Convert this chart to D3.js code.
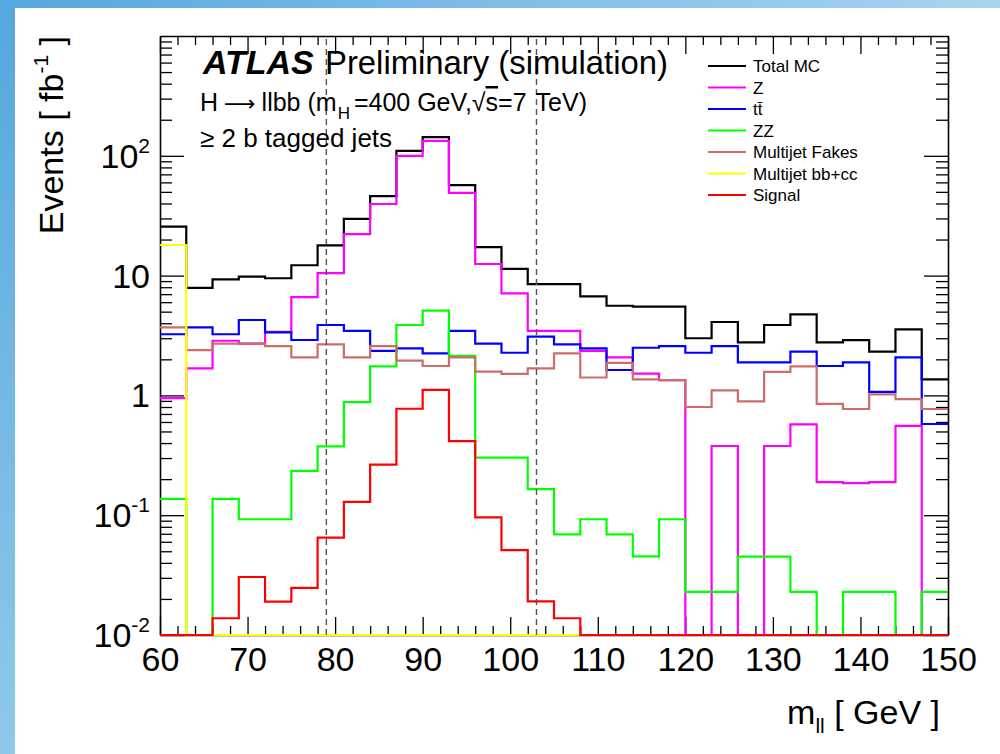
<!DOCTYPE html>
<html>
<head>
<meta charset="utf-8">
<script src="https://cdn.jsdelivr.net/npm/d3@7"></script>
<style>
  body { margin: 0; background: #fff; }
  svg { display: block; }
  text { font-family: "Liberation Sans", Arial, Helvetica, sans-serif; fill: #000; }
</style>
</head>
<body>
<svg id="chart" width="1000" height="754"></svg>
<script>
// m_ll histogram, 3 GeV bins from 60 to 150 GeV
const binEdges = [60, 63, 66, 69, 72, 75, 78, 81, 84, 87, 90, 93, 96, 99, 102, 105,
                  108, 111, 114, 117, 120, 123, 126, 129, 132, 135, 138, 141, 144, 147, 150];

const totalMC = [25.6, 7.9, 9.3, 9.8, 9.5, 12.2, 17.9, 29.7, 46, 110, 143, 57, 17.3, 11.4, 8.5,
                 8.5, 6.7, 5.6, 5.5, 5.5, 3.0, 4.1, 2.77, 3.87, 4.75, 2.77, 2.89, 2.32, 3.56, 1.36];
const zJets = [0.95, 1.68, 2.86, 2.70, 3.40, 6.6, 10.5, 22.2, 39.6, 100, 133, 49, 12.5, 7.1, 3.45,
               3.45, 2.35, 2.08, 1.52, 1.34, 0, 0.378, 0, 0.378, 0.574, 0.189, 0.185, 0.189, 0.556, 0];
const ttbar = [3.24, 3.70, 3.24, 4.26, 3.36, 2.90, 3.87, 3.45, 2.35, 2.47, 2.24, 3.45, 2.70, 2.27, 3.09,
               2.67, 2.47, 1.63, 2.50, 2.58, 2.27, 2.58, 1.89, 1.89, 2.32, 1.76, 1.89, 1.07, 2.08, 0.577];
const zz = [0.137, 0, 0.137, 0.0925, 0.0925, 0.234, 0.376, 0.88, 1.75, 3.87, 5.1, 2.14, 0.302, 0.302, 0.165,
            0.0693, 0.0925, 0.0693, 0.0454, 0.0925, 0.0229, 0.0229, 0.0451, 0.0451, 0.0229, 0, 0.0229, 0.0229, 0, 0.0229];
const multijetFakes = [3.70, 2.39, 2.70, 2.70, 2.58, 2.08, 2.67, 2.08, 2.58, 1.95, 1.76, 2.08, 1.58, 1.51, 1.68,
                       2.24, 1.41, 1.87, 1.36, 1.34, 0.80, 1.10, 0.89, 1.57, 1.75, 0.85, 0.77, 1.02, 0.93, 0.77];
const multijetBBCC = [18, 0, 0, 0, 0, 0, 0, 0, 0, 0, 0, 0, 0, 0, 0,
                      0, 0, 0, 0, 0, 0, 0, 0, 0, 0, 0, 0, 0, 0, 0];
const signal = [0, 0, 0.0138, 0.0305, 0.0190, 0.0247, 0.0649, 0.129, 0.264, 0.774, 1.11, 0.416, 0.096, 0.0512, 0.0191,
                0.0138, 0, 0, 0, 0, 0, 0, 0, 0, 0, 0, 0, 0, 0, 0];

const seriesNames = ["Total MC", "Z", "t\u0074\u0304", "ZZ", "Multijet Fakes", "Multijet bb+cc", "Signal"];
const seriesValues = [totalMC, zJets, ttbar, zz, multijetFakes, multijetBBCC, signal];
const seriesColors = ["#000000", "#ff00ff", "#0000ff", "#00ff00", "#cc6d68", "#ffff00", "#ff0000"];

const xMajorTicks = [60, 70, 80, 90, 100, 110, 120, 130, 140, 150];
const yDecades = [0.01, 0.1, 1, 10, 100];
const yTickBase = ["10", "10", "1", "10", "10"];
const yTickExp = ["-2", "-1", "", "", "2"];
const massWindow = [79, 103];

const svg = d3.select("#chart");
const frame = { left: 160, right: 948, top: 36, bottom: 635 };

// slide border gradients
const defs = svg.append("defs");
const gTop = defs.append("linearGradient").attr("id", "gTop").attr("x1", 0).attr("x2", 1).attr("y1", 0).attr("y2", 0);
gTop.append("stop").attr("offset", 0).attr("stop-color", "#55a7de");
gTop.append("stop").attr("offset", 1).attr("stop-color", "#a9d4f0");
const gLeft = defs.append("linearGradient").attr("id", "gLeft").attr("x1", 0).attr("x2", 0).attr("y1", 0).attr("y2", 1);
gLeft.append("stop").attr("offset", 0).attr("stop-color", "#55a7de");
gLeft.append("stop").attr("offset", 1).attr("stop-color", "#8fc9ea");
svg.append("rect").attr("x", 0).attr("y", 0).attr("width", 1000).attr("height", 8).attr("fill", "url(#gTop)");
svg.append("rect").attr("x", 0).attr("y", 0).attr("width", 15).attr("height", 754).attr("fill", "url(#gLeft)");

const x = d3.scaleLinear().domain([60, 150]).range([frame.left, frame.right]);
const y = d3.scaleLog().domain([0.01, 1000]).range([frame.bottom, frame.top]).clamp(true);

const xMinorTicks = d3.range(60, 151, 2).filter(v => v % 10 !== 0);
const yMinorTicks = [];
yDecades.forEach(d => { for (let k = 2; k <= 9; k++) yMinorTicks.push(d * k); });

// axes (ticks on all four sides)
function styleAxis(g) {
  g.select(".domain").attr("stroke", "#000").attr("stroke-width", 1.6);
  g.selectAll(".tick line").attr("stroke", "#000").attr("stroke-width", 1.3);
}
const axes = svg.append("g");
axes.append("g").attr("transform", `translate(0,${frame.bottom})`)
  .call(d3.axisBottom(x).tickValues(xMajorTicks).tickSizeInner(-18).tickSizeOuter(0).tickPadding(12).tickFormat(d3.format("d")))
  .call(styleAxis)
  .call(g => g.selectAll(".tick text").attr("font-size", 34).attr("font-family", "Liberation Sans, Arial, sans-serif").attr("fill", "#000"));
axes.append("g").attr("transform", `translate(0,${frame.bottom})`)
  .call(d3.axisBottom(x).tickValues(xMinorTicks).tickSizeInner(-9).tickSizeOuter(0).tickFormat(""))
  .call(styleAxis).call(g => g.select(".domain").remove());
axes.append("g").attr("transform", `translate(0,${frame.top})`)
  .call(d3.axisTop(x).tickValues(xMajorTicks).tickSizeInner(-18).tickSizeOuter(0).tickFormat(""))
  .call(styleAxis);
axes.append("g").attr("transform", `translate(0,${frame.top})`)
  .call(d3.axisTop(x).tickValues(xMinorTicks).tickSizeInner(-9).tickSizeOuter(0).tickFormat(""))
  .call(styleAxis).call(g => g.select(".domain").remove());
axes.append("g").attr("transform", `translate(${frame.left},0)`)
  .call(d3.axisLeft(y).tickValues(yDecades).tickSizeInner(-24).tickSizeOuter(0).tickFormat(""))
  .call(styleAxis);
axes.append("g").attr("transform", `translate(${frame.left},0)`)
  .call(d3.axisLeft(y).tickValues(yMinorTicks).tickSizeInner(-12).tickSizeOuter(0).tickFormat(""))
  .call(styleAxis).call(g => g.select(".domain").remove());
axes.append("g").attr("transform", `translate(${frame.right},0)`)
  .call(d3.axisRight(y).tickValues(yDecades).tickSizeInner(-24).tickSizeOuter(0).tickFormat(""))
  .call(styleAxis);
axes.append("g").attr("transform", `translate(${frame.right},0)`)
  .call(d3.axisRight(y).tickValues(yMinorTicks).tickSizeInner(-12).tickSizeOuter(0).tickFormat(""))
  .call(styleAxis).call(g => g.select(".domain").remove());

// y tick labels with exponents
const yLab = svg.append("g").selectAll("text").data(yDecades).join("text")
  .attr("x", frame.left - 10).attr("y", d => y(d) + 12)
  .attr("text-anchor", "end").attr("font-size", 34);
yLab.append("tspan").text((d, i) => yTickBase[i]);
yLab.append("tspan").attr("font-size", 21).attr("dy", (d, i) => yTickExp[i] ? -15 : 0).text((d, i) => yTickExp[i]);

// histograms
const step = d3.line().curve(d3.curveStepAfter)
  .x(d => x(d[0])).y(d => y(Math.max(d[1], 0.01)));
const histG = svg.append("g");
seriesValues.forEach((vals, s) => {
  const pts = vals.map((v, i) => [binEdges[i], v]);
  pts.push([binEdges[binEdges.length - 1], vals[vals.length - 1]]);
  histG.append("path").attr("d", step(pts)).attr("fill", "none")
    .attr("stroke", seriesColors[s]).attr("stroke-width", 2.2);
});

// mass window cut lines
svg.append("g").selectAll("line").data(massWindow).join("line")
  .attr("x1", d => x(d)).attr("x2", d => x(d))
  .attr("y1", frame.bottom).attr("y2", frame.top)
  .attr("stroke", "#555").attr("stroke-width", 1.4).attr("stroke-dasharray", "6,4");

// labels
svg.append("text").attr("x", 203).attr("y", 74).attr("font-size", 34)
  .attr("font-weight", "bold").attr("font-style", "italic").text("ATLAS");
svg.append("text").attr("x", 325).attr("y", 74).attr("font-size", 34)
  .attr("textLength", 343).attr("lengthAdjust", "spacingAndGlyphs").text("Preliminary (simulation)");

const l2 = svg.append("text").attr("x", 200).attr("y", 111).attr("font-size", 25);
l2.append("tspan").text("H");
l2.append("tspan").attr("font-family", "DejaVu Sans").attr("font-size", 22).attr("dx", 6).text("\u27F6");
l2.append("tspan").attr("dx", 6).text("llbb (m");
l2.append("tspan").attr("font-size", 17).attr("dy", 8).attr("dx", 1).text("H");
l2.append("tspan").attr("dy", -8).attr("dx", 4).text("=400 GeV,\u221A");
l2.append("tspan").attr("text-decoration", "overline").text("s");
l2.append("tspan").text("=7");
l2.append("tspan").attr("dx", 9).text("TeV)");

svg.append("text").attr("x", 200).attr("y", 147).attr("font-size", 26).text("\u2265 2 b tagged jets");

// legend
const leg = svg.append("g").selectAll("g").data(seriesNames).join("g")
  .attr("transform", (d, i) => `translate(708,${66 + i * 21.5})`);
leg.append("line").attr("x1", 0).attr("x2", 38).attr("y1", 0).attr("y2", 0)
  .attr("stroke", (d, i) => seriesColors[i]).attr("stroke-width", 2);
leg.append("text").attr("x", 45).attr("y", 6).attr("font-size", 17).attr("fill", "#222").text(d => d);

// axis titles
const yt = svg.append("text").attr("transform", "translate(63,36) rotate(-90)")
  .attr("text-anchor", "end").attr("font-size", 34);
yt.append("tspan").text("Events [ fb");
yt.append("tspan").attr("font-size", 21).attr("dy", -15).text("-1");
yt.append("tspan").attr("dy", 15).text(" ]");

const xt = svg.append("text").attr("x", 940).attr("y", 724).attr("text-anchor", "end").attr("font-size", 34);
xt.append("tspan").text("m");
xt.append("tspan").attr("font-size", 21).attr("dy", 9).text("ll");
xt.append("tspan").attr("dy", -9).text("  [ GeV ]");
</script>
</body>
</html>
